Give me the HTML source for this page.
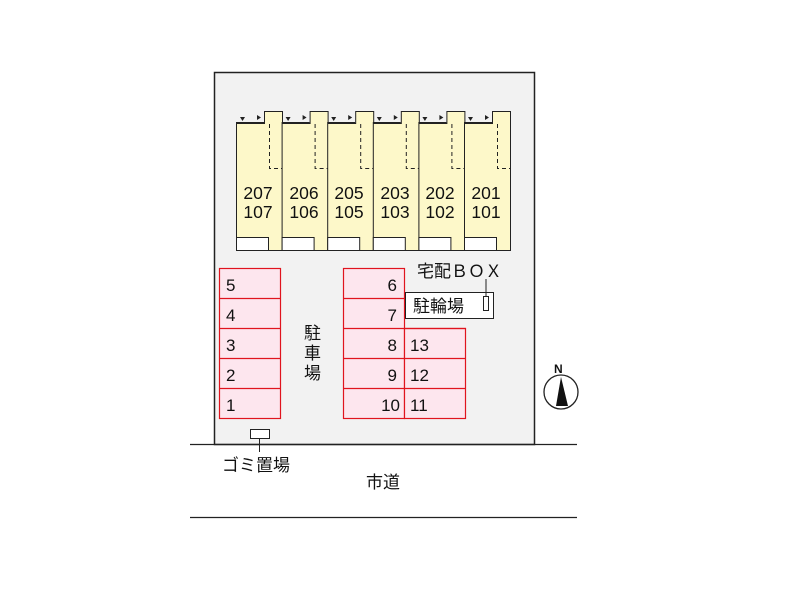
<!DOCTYPE html>
<html><head><meta charset="utf-8"><style>body{margin:0;background:#fff}svg{display:block}text{font-family:"Liberation Sans","Noto Sans CJK JP",sans-serif}</style></head><body>
<svg width="809" height="603" viewBox="0 0 809 603" xmlns="http://www.w3.org/2000/svg">
<rect x="214.5" y="72.5" width="320" height="372" fill="#f2f2f2" stroke="#222" stroke-width="1.5"/>
<line x1="190" y1="444.5" x2="577" y2="444.5" stroke="#222" stroke-width="1.2"/>
<line x1="190" y1="517.5" x2="577" y2="517.5" stroke="#222" stroke-width="1.2"/>
<g id="u">
<path d="M236.5 123.5 H264.5 V111.5 H282.5 V250.5 H236.5 Z" fill="#fdf8c9" stroke="#222"/>
<rect x="236.5" y="237.5" width="32" height="13" fill="#fff" stroke="#222"/>
<path d="M269.5 124 V168.5 H282" fill="none" stroke="#222" stroke-dasharray="4,3"/>
<path d="M240 117 l5 0 l-2.5 4z M257 115 l0 5 l4 -2.5z" fill="#222"/>
<line x1="236" y1="122.5" x2="264" y2="122.5" stroke="#222"/>
</g>
<use href="#u" x="45.6"/><use href="#u" x="91.2"/><use href="#u" x="136.8"/><use href="#u" x="182.4"/><use href="#u" x="228"/>
<g font-size="17.5" text-anchor="middle" fill="#111">
<text x="258" y="199">207</text><text x="258" y="218">107</text>
<text x="304" y="199">206</text><text x="304" y="218">106</text>
<text x="349" y="199">205</text><text x="349" y="218">105</text>
<text x="395" y="199">203</text><text x="395" y="218">103</text>
<text x="440" y="199">202</text><text x="440" y="218">102</text>
<text x="486" y="199">201</text><text x="486" y="218">101</text>
</g>
<g fill="#fde6ee" stroke="#e0141e" stroke-width="1.2">
<rect x="219.5" y="268.5" width="61" height="150"/>
<rect x="343.5" y="268.5" width="61" height="150"/>
<rect x="404.5" y="328.5" width="61" height="90"/>
</g>
<g stroke="#e0141e" stroke-width="1.2">
<path d="M219 298.5H281M219 328.5H281M219 358.5H281M219 388.5H281M343 298.5H405M343 328.5H466M343 358.5H466M343 388.5H466"/>
</g>
<rect x="405.5" y="292.5" width="88" height="26" fill="#fff" stroke="#222"/>
<rect x="483.5" y="296.5" width="5" height="14" fill="#fff" stroke="#222"/>
<line x1="486" y1="279" x2="486" y2="296" stroke="#222"/>
<g font-size="17" fill="#111">
<text x="226" y="291">5</text><text x="226" y="321">4</text><text x="226" y="351">3</text><text x="226" y="381">2</text><text x="226" y="411">1</text>
<text x="397" y="291" text-anchor="end">6</text><text x="397" y="321" text-anchor="end">7</text><text x="397" y="351" text-anchor="end">8</text><text x="397" y="381" text-anchor="end">9</text><text x="400" y="411" text-anchor="end">10</text>
<text x="410" y="351">13</text><text x="410" y="381">12</text><text x="410" y="411">11</text>
<text x="413" y="312">駐輪場</text>
<text x="417" y="277">宅配ＢＯＸ</text>
<text x="304" y="339">駐</text><text x="304" y="359">車</text><text x="304" y="379">場</text>
<text x="222" y="471">ゴミ置場</text>
<text x="366" y="488">市道</text>
</g>
<rect x="250.5" y="429.5" width="19" height="9" fill="#fff" stroke="#222"/>
<line x1="259.5" y1="438" x2="259.5" y2="452" stroke="#222"/>
<circle cx="561" cy="392" r="17" fill="#fff" stroke="#222" stroke-width="1.3"/>
<path d="M561 377 L568 406 L556 406 Z" fill="#111"/>
<text x="554" y="373" font-size="12" font-weight="bold" fill="#111">N</text>
</svg>
</body></html>
